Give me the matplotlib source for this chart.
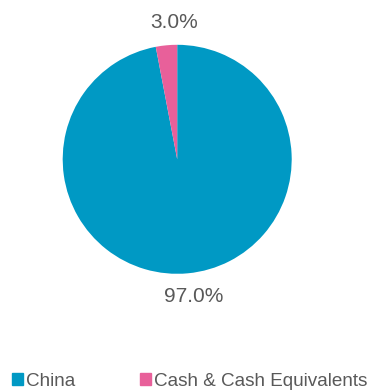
import matplotlib
matplotlib.use("Agg")
import matplotlib.pyplot as plt
import matplotlib.patches as mpatches

# allocation data
categories = ["China", "Cash & Cash Equivalents"]
weights = [97.0, 3.0]
colors = ["#0099C4", "#E8609A"]
text_color = "#595959"

plt.rcParams["font.family"] = ["Liberation Sans", "DejaVu Sans"]

W, H = 368, 390
fig = plt.figure(figsize=(W / 100, H / 100), dpi=100)

# pie area in pixels
cx, cy, r = 177.2, 159.3, 114.5
ax = fig.add_axes([(cx - r) / W, (H - cy - r) / H, 2 * r / W, 2 * r / H])
ax.pie(weights, colors=colors, startangle=90, counterclock=False,
       radius=1, wedgeprops=dict(linewidth=0))
ax.set_xlim(-1, 1)
ax.set_ylim(-1, 1)
ax.set_aspect("equal")
ax.axis("off")

# value labels outside the slices
label_pos = [(0.147, -1.246), (-0.028, 1.147)]
for val, (lx, ly) in zip(weights, label_pos):
    ax.text(lx, ly, f"{val:.1f}%", ha="center", va="baseline",
            fontsize=15, color=text_color, clip_on=False)

handles = [mpatches.Patch(color=c, label=n) for c, n in zip(colors, categories)]
leg = fig.legend(handles=handles, loc="lower left", bbox_to_anchor=(12 / W, 0.0),
                 ncol=2, frameon=False, fontsize=13.6, borderpad=0,
                 borderaxespad=0, handlelength=0.58, handleheight=0.58,
                 handletextpad=0.16, columnspacing=3.45)
for t in leg.get_texts():
    t.set_color(text_color)

fig.savefig("out.png", dpi=100)
